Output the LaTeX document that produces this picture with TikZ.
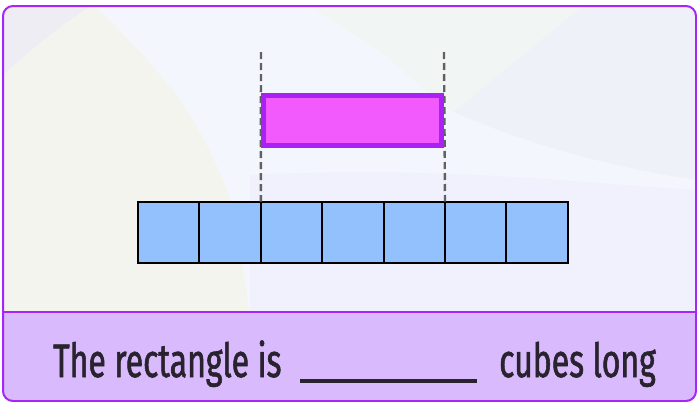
\documentclass[tikz,border=0pt]{standalone}
\usepackage{fontspec}
\setmainfont[FakeStretch=0.68,FakeBold=1.2]{Fira Sans}
\definecolor{bgmain}{HTML}{F4F6FD}
\definecolor{bggreen}{HTML}{F3F4EE}
\definecolor{bglav}{HTML}{EFEDF4}
\definecolor{bgtr}{HTML}{F1F5F4}
\definecolor{bgtr2}{HTML}{EEF1F8}
\definecolor{bglow}{HTML}{F0F1FC}
\definecolor{frame}{HTML}{A626F7}
\definecolor{panel}{HTML}{D9BAFC}
\definecolor{cube}{HTML}{93C1FD}
\definecolor{rectfill}{HTML}{F25AFD}
\definecolor{rectline}{HTML}{A822F5}
\definecolor{txt}{HTML}{28232E}
\tikzset{
  cubebox/.style={draw=black, line width=2pt, fill=cube, minimum width=61.4pt, minimum height=61.4pt, inner sep=0pt, outer sep=0pt},
  guide/.style={draw=black!62, line width=2.4pt, dash pattern=on 7pt off 4pt},
  qtext/.style={font=\fontsize{47}{50}\selectfont, text=txt, inner sep=0pt, anchor=base west},
}
\begin{document}
\begin{tikzpicture}[x=1pt,y=-1pt]
\useasboundingbox (0,0) rectangle (697,402);
\begin{scope}
\clip[rounded corners=10pt] (3,6) rectangle (696,401);
\fill[bgmain] (0,0) rectangle (697,402);
\fill[bglow] (250,175) .. controls (450,165) and (600,185) .. (697,190) -- (697,312) -- (250,312) -- cycle;
\fill[bgtr] (347,30) .. controls (400,60) and (430,100) .. (454,112) .. controls (550,150) and (630,170) .. (697,180) -- (697,0) -- (300,0) -- cycle;
\fill[bgtr2] (454,112) .. controls (540,150) and (630,170) .. (697,180) -- (697,0) -- (590,0) -- cycle;
\fill[bggreen] plot[smooth] coordinates {(70,-5) (97,8) (180,100) (230,200) (250,320)} -- (0,320) -- (0,0) -- cycle;
\fill[bglav] (0,0) -- (100,0) .. controls (60,25) and (30,50) .. (0,78) -- cycle;
\fill[panel] (0,312) rectangle (697,402);
\end{scope}
\draw[frame, line width=2pt] (3,312) -- (696,312);
\draw[frame, line width=2pt, rounded corners=10pt] (3,6) rectangle (696,401);
% cubes
\node[cubebox, anchor=north west] (c1) at (138,201.5) {};
\foreach \i [count=\j from 2] in {1,...,6} {
  \node[cubebox, anchor=west] (c\j) at (c\i.east) {};
}
% dashed guides
\coordinate (g1) at (261,52);
\coordinate (g2) at (444,52);
\draw[guide] (g1) -- (c3.north west);
\draw[guide] (g2) -- (c5.north east);
% magenta rectangle
\node[draw=rectline, fill=rectfill, line width=4.5pt, minimum width=178pt, minimum height=50pt, inner sep=0pt, anchor=center] (r) at (352.5,120.5) {};
% text
\node[qtext] (t1) at (53,377) {The rectangle is};
\draw[txt, line width=3.5pt] (300,381) coordinate (u1) -- (477,381) coordinate (u2);
\node[qtext] (t2) at (499,377) {cubes long};
\end{tikzpicture}
\end{document}
